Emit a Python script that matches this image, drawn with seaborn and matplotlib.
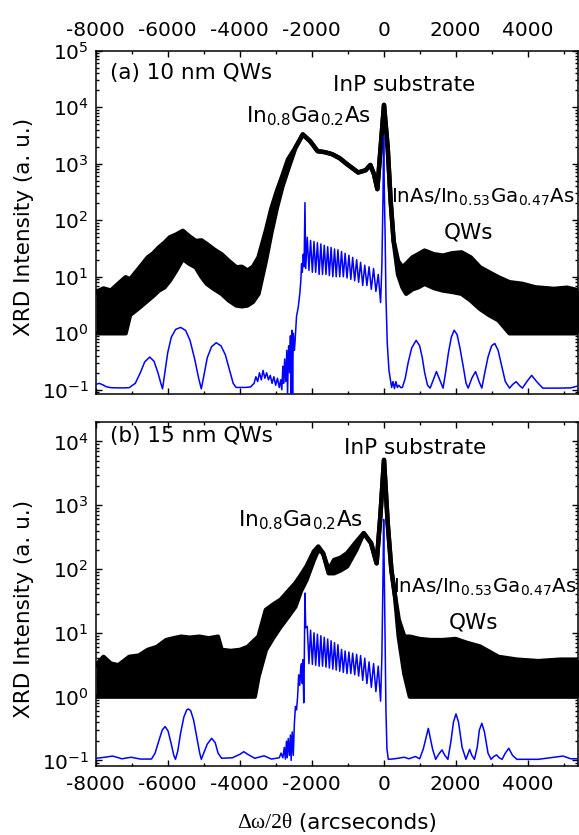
import numpy as np
import pandas as pd
import matplotlib
matplotlib.use("Agg")
import matplotlib.pyplot as plt
import seaborn as sns
from matplotlib.ticker import MultipleLocator, LogLocator, NullFormatter
from matplotlib.offsetbox import TextArea, HPacker, AnchoredOffsetbox

# ---------------- data ----------------
# Panel (a) 10 nm QWs : measured curve, envelope of the noisy band
a_meas_x = [-7990, -7784, -7579, -7374, -7169, -7046, -6800, -6554, -6400, -6246,
            -6090, -5938, -5760, -5579, -5400, -5220, -5060, -4913, -4700, -4502,
            -4300, -4092, -3940, -3785, -3630, -3477, -3272, -3120, -2964, -2810,
            -2656, -2451, -2246, -2041, -1836, -1630, -1426, -1220, -1015, -708,
            -503, -369, -267, -174, -92, 10, 113, 195, 277, 400,
            523, 626, 800, 960, 1138, 1400, 1651, 1900, 2164, 2420,
            2677, 2930, 3190, 3497, 3850, 4215, 4728, 5100, 5425]
a_meas_hi = [5.35, 6.2, 5.7, 7.5, 9.8, 9.0, 14, 22, 26, 33,
             40, 50, 56, 65, 52, 43, 44, 38, 30, 25,
             19, 14.7, 15, 12.9, 15, 22, 65, 160, 330, 620,
             1200, 1920, 3300, 2500, 1670, 1600, 1470, 1250, 980, 700,
             765, 950, 650, 355, 1670, 11000, 1920, 220, 43, 19,
             14.7, 16.9, 22, 25, 29, 25, 23.7, 26, 27, 22,
             14.7, 12, 9.8, 8.0, 7.5, 6.5, 6.1, 6.4, 5.7]
a_meas_lo = [1.0, 1.0, 1.0, 1.0, 1.0, 2.1, 2.8, 3.8, 4.6, 5.7,
             6.5, 8.6, 13, 20.7, 17, 14.7, 10, 7.5, 6.0, 5.0,
             3.8, 3.1, 3.0, 3.1, 3.6, 5.0, 19.3, 60, 168, 400,
             795, 1920, 3300, 2500, 1670, 1600, 1470, 1250, 980, 700,
             765, 950, 650, 355, 1670, 11000, 1920, 220, 43, 11,
             6.5, 5.0, 6.0, 6.5, 7.5, 6.3, 5.7, 5.4, 5.0, 3.8,
             2.7, 2.1, 1.7, 1.0, 1.0, 1.0, 1.0, 1.0, 1.0]

# Panel (a) simulation
a_sim_x = [-7990, -7900, -7800, -7700, -7580, -7400, -7200, -7070, -6900, -6760,
           -6640, -6500, -6380, -6270, -6190, -6143, -6080, -6000, -5900, -5780,
           -5640, -5500, -5380, -5250, -5140, -5066, -5000, -4900, -4780, -4650,
           -4520, -4400, -4280, -4180, -4100, -3990, -3850, -3700, -3600, -3550,
           -3500, -3450, -3400, -3350, -3300, -3250, -3200, -3150, -3100, -3050,
           -3000, -2950, -2900, -2860, -2830, -2800, -2780, -2750, -2720, -2690,
           -2670, -2640, -2610, -2590, -2570, -2550, -2530, -2510, -2480, -2465,
           -2420, -2372, -2330, -2300, -2280, -2260, -2233, -2210, -2186, -2165,
           -2122, -2075, -2030, -1980, -1935, -1888, -1840, -1792, -1745, -1698,
           -1650, -1602, -1555, -1508, -1460, -1412, -1365, -1318, -1270, -1220,
           -1170, -1120, -1070, -1018, -965, -912, -860, -805, -750, -695,
           -640, -582, -525, -465, -405, -342, -280, -215, -150, -85,
           -50, -20, 0, 20, 40, 64, 101, 148, 222, 260,
           300, 340, 380, 420, 480, 520, 600, 680, 780, 903,
           1000, 1070, 1140, 1220, 1292, 1380, 1467, 1560, 1651, 1720,
           1800, 1880, 1959, 2040, 2120, 2215, 2290, 2349, 2450, 2554,
           2650, 2728, 2810, 2900, 3000, 3087, 3180, 3270, 3380, 3497,
           3590, 3682, 3770, 3856, 3980, 4113, 4250, 4420, 4800, 5200,
           5425]
a_sim_y = [0.125, 0.13, 0.122, 0.113, 0.109, 0.108, 0.108, 0.109, 0.13, 0.2,
           0.31, 0.38, 0.32, 0.2, 0.13, 0.104, 0.2, 0.45, 0.85, 1.17,
           1.27, 1.12, 0.75, 0.35, 0.16, 0.104, 0.17, 0.37, 0.58, 0.68,
           0.6, 0.42, 0.22, 0.13, 0.11, 0.11, 0.11, 0.112, 0.13, 0.17,
           0.14, 0.2, 0.15, 0.22, 0.16, 0.2, 0.15, 0.18, 0.13, 0.17,
           0.12, 0.16, 0.11, 0.15, 0.1, 0.26, 0.13, 0.35, 0.14, 0.5,
           0.085, 0.6, 0.2, 0.9, 0.085, 1.13, 0.085, 1.0, 0.5, 0.66,
           2.0, 2.9, 5.0, 8.6, 17, 12, 25, 15, 205, 14,
           50, 13, 44, 12, 42, 12, 40, 11, 38, 11,
           36, 11, 34, 10.5, 33, 10, 31, 10, 30, 10,
           28, 10, 26, 9.5, 24, 9, 22, 8.5, 20, 8,
           18, 7, 16, 7, 15, 6, 14, 5.5, 11, 3.5,
           15, 200, 3000, 300, 60, 4.5, 0.66, 0.22, 0.11, 0.14,
           0.105, 0.14, 0.11, 0.12, 0.109, 0.11, 0.16, 0.3, 0.55, 0.75,
           0.6, 0.38, 0.2, 0.12, 0.107, 0.15, 0.21, 0.15, 0.107, 0.2,
           0.45, 0.85, 1.13, 0.95, 0.55, 0.25, 0.13, 0.107, 0.16, 0.21,
           0.14, 0.107, 0.2, 0.38, 0.6, 0.66, 0.5, 0.28, 0.14, 0.107,
           0.125, 0.139, 0.12, 0.107, 0.14, 0.18, 0.14, 0.107, 0.107, 0.108,
           0.118]

# Panel (b) 15 nm QWs : measured curve envelope
b_meas_x = [-7990, -7784, -7580, -7374, -7220, -7067, -6800, -6554, -6300, -6041,
            -5840, -5631, -5380, -5118, -4860, -4605, -4502, -4250, -3990, -3780,
            -3580, -3477, -3272, -3060, -2861, -2650, -2451, -2300, -2143, -1938,
            -1815, -1682, -1528, -1374, -1200, -1015, -759, -554, -349, -195,
            -92, 10, 113, 215, 318, 420, 574, 728, 1000, 1300,
            1651, 2000, 2300, 2677, 3190, 3702, 4300, 4900, 5425]
b_meas_hi = [3.1, 4.2, 3.3, 3.1, 3.6, 4.2, 4.4, 5.4, 6.0, 7.7,
             8.2, 8.7, 8.4, 8.7, 8.2, 8.7, 5.4, 5.2, 5.4, 6.0,
             7.7, 8.7, 22.9, 28, 33, 45, 60, 80, 110, 189,
             226, 177, 97, 139, 150, 177, 268, 366, 255, 123,
             670, 5150, 525, 97, 37, 16, 8.7, 8.7, 8.0, 7.7,
             7.7, 8.0, 7.0, 6.1, 4.2, 3.8, 3.6, 3.8, 3.8]
b_meas_lo = [1.0, 1.0, 1.0, 1.0, 1.0, 1.0, 1.0, 1.0, 1.0, 1.0,
             1.0, 1.0, 1.0, 1.0, 1.0, 1.0, 1.0, 1.0, 1.0, 1.0,
             1.0, 2.06, 5.4, 8.5, 12.5, 18, 25.8, 45, 67.6, 139,
             200, 177, 86, 86, 95, 110, 200, 366, 255, 123,
             670, 5150, 525, 97, 37, 8.7, 2.3, 1.0, 1.0, 1.0,
             1.0, 1.0, 1.0, 1.0, 1.0, 1.0, 1.0, 1.0, 1.0]

# Panel (b) simulation
b_sim_x = [-7990, -7750, -7528, -7272, -7015, -6759, -6450, -6350, -6250, -6150,
           -6072, -5990, -5900, -5830, -5784, -5720, -5640, -5550, -5470, -5425,
           -5360, -5280, -5190, -5110, -5066, -5000, -4900, -4779, -4680, -4600,
           -4502, -4200, -3990, -3887, -3780, -3580, -3323, -3118, -2900, -2850,
           -2800, -2760, -2730, -2700, -2680, -2650, -2620, -2590, -2570, -2540,
           -2510, -2480, -2450, -2420, -2390, -2360, -2330, -2300, -2280, -2260,
           -2240, -2220, -2205, -2186, -2165,
           -2122, -2075, -2030, -1980, -1935, -1888, -1840, -1792, -1745, -1698,
           -1650, -1602, -1555, -1508, -1460, -1412, -1365, -1318, -1270, -1220,
           -1170, -1120, -1070, -1018, -965, -912, -860, -805, -750, -695,
           -640, -582, -525, -465, -405, -342, -280, -215, -150, -85,
           -50, -20, 0, 20, 40, 64, 92, 130, 300, 574,
           700, 882, 1000, 1100, 1241, 1360, 1446, 1530, 1620, 1700,
           1785, 1870, 1940, 2010, 2080, 2180, 2287, 2340, 2390, 2450,
           2523, 2600, 2660, 2728, 2800, 2900, 2985, 3060, 3138, 3210,
           3292, 3380, 3477, 3580, 3702, 4300, 4985, 5200, 5425]
b_sim_y = [0.108, 0.112, 0.117, 0.106, 0.112, 0.105, 0.105, 0.13, 0.2, 0.3,
           0.34, 0.29, 0.18, 0.12, 0.104, 0.14, 0.27, 0.48, 0.62, 0.64,
           0.6, 0.43, 0.23, 0.13, 0.104, 0.13, 0.18, 0.222, 0.19, 0.13,
           0.108, 0.11, 0.125, 0.137, 0.125, 0.108, 0.118, 0.105, 0.11, 0.13,
           0.11, 0.16, 0.105, 0.2, 0.11, 0.22, 0.12, 0.25, 0.1, 0.28,
           0.12, 0.38, 0.7, 0.62, 1.0, 2.2, 1.5, 3.0, 3.3, 1.6,
           3.8, 0.8, 3.5, 42, 12,
           12.6, 3.3, 11, 3.2, 10, 3.1, 9.5, 3.0, 9, 3.0,
           8.5, 2.9, 8, 2.8, 7.5, 2.7, 7, 2.6, 6.5, 2.5,
           5.5, 2.4, 5.2, 2.3, 5.0, 2.3, 4.8, 2.2, 4.6, 2.1,
           4.4, 1.8, 4.0, 1.6, 3.5, 1.4, 3.3, 1.2, 3.0, 0.85,
           4, 60, 600, 60, 8, 0.6, 0.15, 0.104, 0.106, 0.112,
           0.106, 0.115, 0.106, 0.15, 0.318, 0.15, 0.104, 0.125, 0.146, 0.12,
           0.104, 0.2, 0.4, 0.535, 0.4, 0.16, 0.104, 0.125, 0.149, 0.12,
           0.104, 0.16, 0.3, 0.382, 0.28, 0.13, 0.104, 0.115, 0.122, 0.11,
           0.104, 0.13, 0.155, 0.12, 0.104, 0.104, 0.117, 0.106, 0.106]

xticks = [-8000, -6000, -4000, -2000, 0, 2000, 4000]
panel_labels = ["(a) 10 nm QWs", "(b) 15 nm QWs"]
ylabel = "XRD Intensity (a. u.)"

# ---------------- style ----------------
sns.set_style("ticks")
plt.rcParams["font.family"] = ["DejaVu Sans"]
plt.rcParams["mathtext.fontset"] = "dejavusans"
plt.rcParams["axes.unicode_minus"] = False
for k in ["text.color", "axes.labelcolor", "xtick.color", "ytick.color", "axes.edgecolor"]:
    plt.rcParams[k] = "black"
FS = 15.5
TFS = 14.5
QFS = 14.3

fig = plt.figure(figsize=(5.79, 8.35), dpi=100)
W, H = 579, 835
ax1 = fig.add_axes([95.7 / W, 1 - 394.3 / H, (578 - 95.7) / W, 343.6 / H])
ax2 = fig.add_axes([95.7 / W, 1 - 765.7 / H, (578 - 95.7) / W, 344.0 / H])


def draw(ax, mx, mhi, mlo, sx, sy):
    ax.fill_between(mx, mlo, mhi, color="black", lw=0, zorder=2)
    sns.lineplot(x=mx, y=mhi, ax=ax, color="black", lw=3.2, estimator=None, sort=False, zorder=2)
    sns.lineplot(x=mx, y=mlo, ax=ax, color="black", lw=3.2, estimator=None, sort=False, zorder=2)
    sns.lineplot(x=sx, y=sy, ax=ax, color="#0000ff", lw=1.1, estimator=None, sort=False, zorder=3)
    ax.set_yscale("log")
    ax.set_xlim(-8000, 5400)
    ax.xaxis.set_major_locator(MultipleLocator(2000))
    ax.xaxis.set_minor_locator(MultipleLocator(1000))
    ax.yaxis.set_major_locator(LogLocator(base=10, numticks=20))
    ax.yaxis.set_minor_locator(LogLocator(base=10, subs=np.arange(2, 10), numticks=20))
    ax.yaxis.set_minor_formatter(NullFormatter())
    ax.xaxis.set_minor_formatter(NullFormatter())
    ax.tick_params(which="both", direction="in", top=True, right=True, width=1.0,
                   labelsize=TFS, colors="black")
    ax.tick_params(which="major", length=4)
    ax.tick_params(which="minor", length=2.5, labelleft=False, labelright=False,
                   labeltop=False, labelbottom=False)
    ax.tick_params(axis="y", which="major", pad=5)
    for s in ax.spines.values():
        s.set_linewidth(1.1)
        s.set_color("black")
    ax.set_xlabel("")
    ax.set_ylabel("")


draw(ax1, a_meas_x, a_meas_hi, a_meas_lo, a_sim_x, a_sim_y)
draw(ax2, b_meas_x, b_meas_hi, b_meas_lo, b_sim_x, b_sim_y)

ax1.set_ylim(10 ** -1.08, 1e5)
ax2.set_ylim(10 ** -1.083, 10 ** 4.31)

ax1.tick_params(axis="x", which="major", labeltop=True, labelbottom=False, pad=8)
ax2.tick_params(axis="x", which="major", labeltop=False, labelbottom=True, pad=6.5)
ax1.set_xticks(xticks)
ax2.set_xticks(xticks)

# annotations panel (a)
ax1.text(-7600, 4.0e4, panel_labels[0], fontsize=FS, ha="left", va="center")
ax1.text(565, 2.5e4, "InP substrate", fontsize=FS, ha="center", va="center")
ax1.text(-3835, 5.3e3, r"In$_{0.8}$Ga$_{0.2}$As", fontsize=FS, ha="left", va="baseline")
ax1.text(214, 206, r"InAs/In$_{0.53}$Ga$_{0.47}$As", fontsize=QFS, ha="left", va="baseline", clip_on=False)
ax1.text(2348, 47, "QWs", fontsize=FS, ha="center", va="baseline")

# annotations panel (b)
ax2.text(-7600, 1.2e4, panel_labels[1], fontsize=FS, ha="left", va="center")
ax2.text(881, 7.9e3, "InP substrate", fontsize=FS, ha="center", va="center")
ax2.text(-4042, 464, r"In$_{0.8}$Ga$_{0.2}$As", fontsize=FS, ha="left", va="baseline")
ax2.text(250, 43, r"InAs/In$_{0.53}$Ga$_{0.47}$As", fontsize=QFS, ha="left", va="baseline", clip_on=False)
ax2.text(2492, 11.8, "QWs", fontsize=FS, ha="center", va="baseline")

# y labels
fig.text(24 / W, 1 - 227 / H, ylabel, rotation=90, fontsize=FS, ha="center", va="center")
fig.text(24 / W, 1 - 609 / H, ylabel, rotation=90, fontsize=FS, ha="center", va="center")

# x label with serif Greek part
ta1 = TextArea("\u0394\u03c9/2\u03b8", textprops=dict(family="Liberation Serif", size=FS, color="black"))
ta2 = TextArea(" (arcseconds)", textprops=dict(family="DejaVu Sans", size=FS, color="black"))
box = HPacker(children=[ta1, ta2], align="baseline", pad=0, sep=0)
anch = AnchoredOffsetbox(loc="center", child=box, pad=0, frameon=False,
                         bbox_to_anchor=(337 / W, 1 - 823 / H),
                         bbox_transform=fig.transFigure, borderpad=0)
fig.add_artist(anch)

fig.savefig("out.png", dpi=100)
